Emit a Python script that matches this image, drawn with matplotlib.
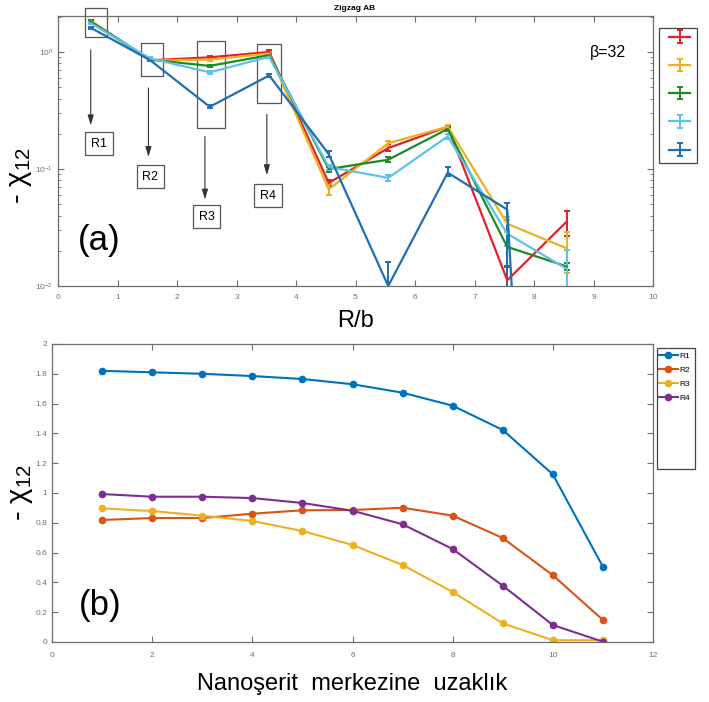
import numpy as np
import matplotlib
matplotlib.use("Agg")
import matplotlib.pyplot as plt
from matplotlib.patches import Rectangle
from matplotlib.ticker import FormatStrFormatter, LogLocator

plt.rcParams['font.family'] = ['Liberation Sans', 'DejaVu Sans']
plt.rcParams['mathtext.fontset'] = 'custom'
plt.rcParams['mathtext.rm'] = 'Liberation Sans'
plt.rcParams['mathtext.it'] = 'Liberation Sans:italic'

# ---- panel (a): Zigzag AB, beta = 32 ----
x_a = [0.55, 1.55, 2.55, 3.55, 4.55, 5.55, 6.55, 7.55, 8.55]
red = [1.84, 0.85, 0.90, 1.00, 0.076, 0.151, 0.23, 0.0112, 0.0355]
yellow = [1.84, 0.85, 0.86, 0.97, 0.067, 0.166, 0.23, 0.034, 0.021]
green = [1.82, 0.86, 0.76, 0.94, 0.100, 0.120, 0.22, 0.0216, 0.0147]
cyan = [1.76, 0.88, 0.67, 0.91, 0.104, 0.084, 0.19, 0.028, 0.014]
blue = [1.61, 0.85, 0.34, 0.63, 0.134, 0.010, 0.093, 0.045, 1e-10]

red_lo = [0.04, 0.02, 0.02, 0.03, 0.004, 0.008, 0.01, 0.004, 0.0085]
red_hi = [0.04, 0.02, 0.02, 0.03, 0.004, 0.008, 0.01, 0.0035, 0.0085]
yellow_lo = [0.04, 0.02, 0.02, 0.03, 0.007, 0.008, 0.01, 0.005, 0.008]
yellow_hi = [0.04, 0.02, 0.02, 0.03, 0.007, 0.008, 0.01, 0.005, 0.008]
green_lo = [0.04, 0.02, 0.02, 0.03, 0.005, 0.006, 0.01, 0.007, 0.001]
green_hi = [0.04, 0.02, 0.02, 0.03, 0.005, 0.006, 0.01, 0.0005, 0.001]
cyan_lo = [0.04, 0.02, 0.02, 0.03, 0.005, 0.005, 0.008, 0.006, 0.0065]
cyan_hi = [0.04, 0.02, 0.02, 0.03, 0.005, 0.005, 0.008, 0.009, 0.0065]
blue_lo = [0.04, 0.02, 0.01, 0.02, 0.008, 0.006, 0.006, 0.04, 0]
blue_hi = [0.04, 0.02, 0.01, 0.02, 0.008, 0.006, 0.01, 0.006, 0]

# ---- panel (b): distance from nanoribbon centre ----
x_b = [1, 2, 3, 4, 5, 6, 7, 8, 9, 10, 11]
r1 = [1.82, 1.81, 1.80, 1.785, 1.765, 1.73, 1.673, 1.586, 1.423, 1.125, 0.505]
r2 = [0.819, 0.832, 0.832, 0.861, 0.884, 0.886, 0.901, 0.848, 0.698, 0.448, 0.148]
r3 = [0.897, 0.879, 0.848, 0.812, 0.745, 0.651, 0.517, 0.336, 0.125, 0.012, 0.012]
r4 = [0.993, 0.975, 0.975, 0.966, 0.933, 0.881, 0.790, 0.624, 0.378, 0.114, 0.002]
labels_b = ['R1', 'R2', 'R3', 'R4']

W, H = 709, 702
fig = plt.figure(figsize=(W / 100, H / 100), dpi=100)

spine_col = '#6e6e6e'
tick_col = '#707070'


def matlab_axes(ax):
    for s in ax.spines.values():
        s.set_color(spine_col)
        s.set_linewidth(0.9)
    ax.tick_params(which='both', direction='in', top=True, right=True,
                   colors=spine_col, labelcolor=tick_col, labelsize=6)
    ax.tick_params(which='major', length=4)
    ax.tick_params(which='minor', length=2)


# ================= (a) =================
ax1 = fig.add_axes([58 / W, 1 - 286 / H, 595 / W, 270 / H])
ax1.set_yscale('log')
series_a = [
    (red, red_lo, red_hi, '#e0202a'),
    (yellow, yellow_lo, yellow_hi, '#edb120'),
    (green, green_lo, green_hi, '#1d8a22'),
    (cyan, cyan_lo, cyan_hi, '#5bc3ea'),
    (blue, blue_lo, blue_hi, '#1f6fb2'),
]
handles_a = []
for vals, lo, hi, col in series_a:
    h = ax1.errorbar(x_a, vals, yerr=[lo, hi], color=col, lw=1.6,
                     elinewidth=1.4, capsize=2.5, capthick=1.4)
    handles_a.append(h)

ax1.set_xlim(0, 10)
ax1.set_ylim(0.01, 2.03)
ax1.set_xticks(range(0, 11))
ax1.yaxis.set_major_locator(LogLocator(base=10, numticks=5))
ax1.yaxis.set_minor_locator(LogLocator(base=10, subs=np.arange(2, 10), numticks=20))
matlab_axes(ax1)
ax1.tick_params(axis='x', pad=6)
ax1.set_xlabel('R/b', fontsize=17, labelpad=6)
ax1.set_ylabel('- χ$_{12}$', fontsize=21)
ax1.yaxis.set_label_coords(-0.04, 0.41)
fig.text(355 / W, 1 - 8 / H, 'Zigzag AB', fontsize=6, fontweight='bold',
         ha='center', va='center')
ax1.text(0.924, 0.865, 'β=32', transform=ax1.transAxes, fontsize=11.5,
         ha='center', va='center')
ax1.text(0.07, 0.17, '(a)', transform=ax1.transAxes, fontsize=25,
         ha='center', va='center')

# region boxes, arrows and labels
box_col = '#555555'
regions = [
    ((0.45, 1.34), 0.37, 2.38, False),
    ((1.40, 0.62), 0.36, 1.19, True),
    ((2.34, 0.224), 0.47, 1.24, True),
    ((3.34, 0.367), 0.41, 1.17, True),
]
for (x0, y0), w, ytop, clip in regions:
    ax1.add_patch(Rectangle((x0, y0), w, ytop - y0, fill=False, ec=box_col,
                            lw=0.9, clip_on=clip))
arrows = [(0.55, 1.10, 0.224), (1.52, 0.52, 0.12), (2.47, 0.20, 0.052),
          (3.51, 0.31, 0.084)]
for xa, ys, ye in arrows:
    ax1.annotate('', xy=(xa, ye), xytext=(xa, ys),
                 arrowprops=dict(arrowstyle='-|>,head_width=0.18,head_length=0.6',
                                 color='#333333', lw=0.8))
tags = [(0.69, 0.164, 'R1'), (1.55, 0.086, 'R2'), (2.50, 0.039, 'R3'),
        (3.53, 0.059, 'R4')]
for xt, yt, s in tags:
    ax1.text(xt, yt, s, fontsize=9, ha='center', va='center',
             bbox=dict(boxstyle='square,pad=0.45', fc='white', ec=box_col, lw=0.9))

leg_a = ax1.legend(handles_a, [''] * 5, loc='upper left',
                   bbox_to_anchor=(659 / W, 1 - 22 / H),
                   bbox_transform=fig.transFigure, frameon=False, fontsize=9,
                   handlelength=1.7, handletextpad=0, labelspacing=1.3,
                   borderpad=0.3)
fig.add_artist(Rectangle((659 / W, 1 - 163 / H), 38 / W, 135 / H, fill=False,
                         ec='#444444', lw=0.9, transform=fig.transFigure))

# ================= (b) =================
ax2 = fig.add_axes([52 / W, 1 - 642 / H, 601 / W, 298 / H])
colors_b = ['#0072bd', '#d95319', '#edb120', '#7e2f8e']
for vals, col, lab in zip([r1, r2, r3, r4], colors_b, labels_b):
    ax2.plot(x_b, vals, '-o', color=col, lw=1.5, ms=4.5, label=lab)
ax2.set_xlim(0, 12)
ax2.set_ylim(0, 2)
ax2.set_xticks(range(0, 13, 2))
ax2.set_yticks(np.arange(0, 2.01, 0.2))
ax2.yaxis.set_major_formatter(FormatStrFormatter('%g'))
matlab_axes(ax2)
ax2.tick_params(axis='x', pad=7)
ax2.set_xlabel('Nanoşerit  merkezine  uzaklık', fontsize=17, labelpad=10)
ax2.set_ylabel('- χ$_{12}$', fontsize=21, labelpad=0)
ax2.text(0.081, 0.123, '(b)', transform=ax2.transAxes, fontsize=25,
         ha='center', va='center')

ax2.legend(loc='upper left', bbox_to_anchor=(657 / W, 1 - 350 / H),
           bbox_transform=fig.transFigure, frameon=False, fontsize=6,
           handlelength=2.3, handletextpad=0.2, labelspacing=0.75,
           borderpad=0.2, borderaxespad=0)
fig.add_artist(Rectangle((657 / W, 1 - 469 / H), 38 / W, 121 / H, fill=False,
                         ec='#444444', lw=0.9, transform=fig.transFigure))

fig.savefig('out.png', dpi=100)
